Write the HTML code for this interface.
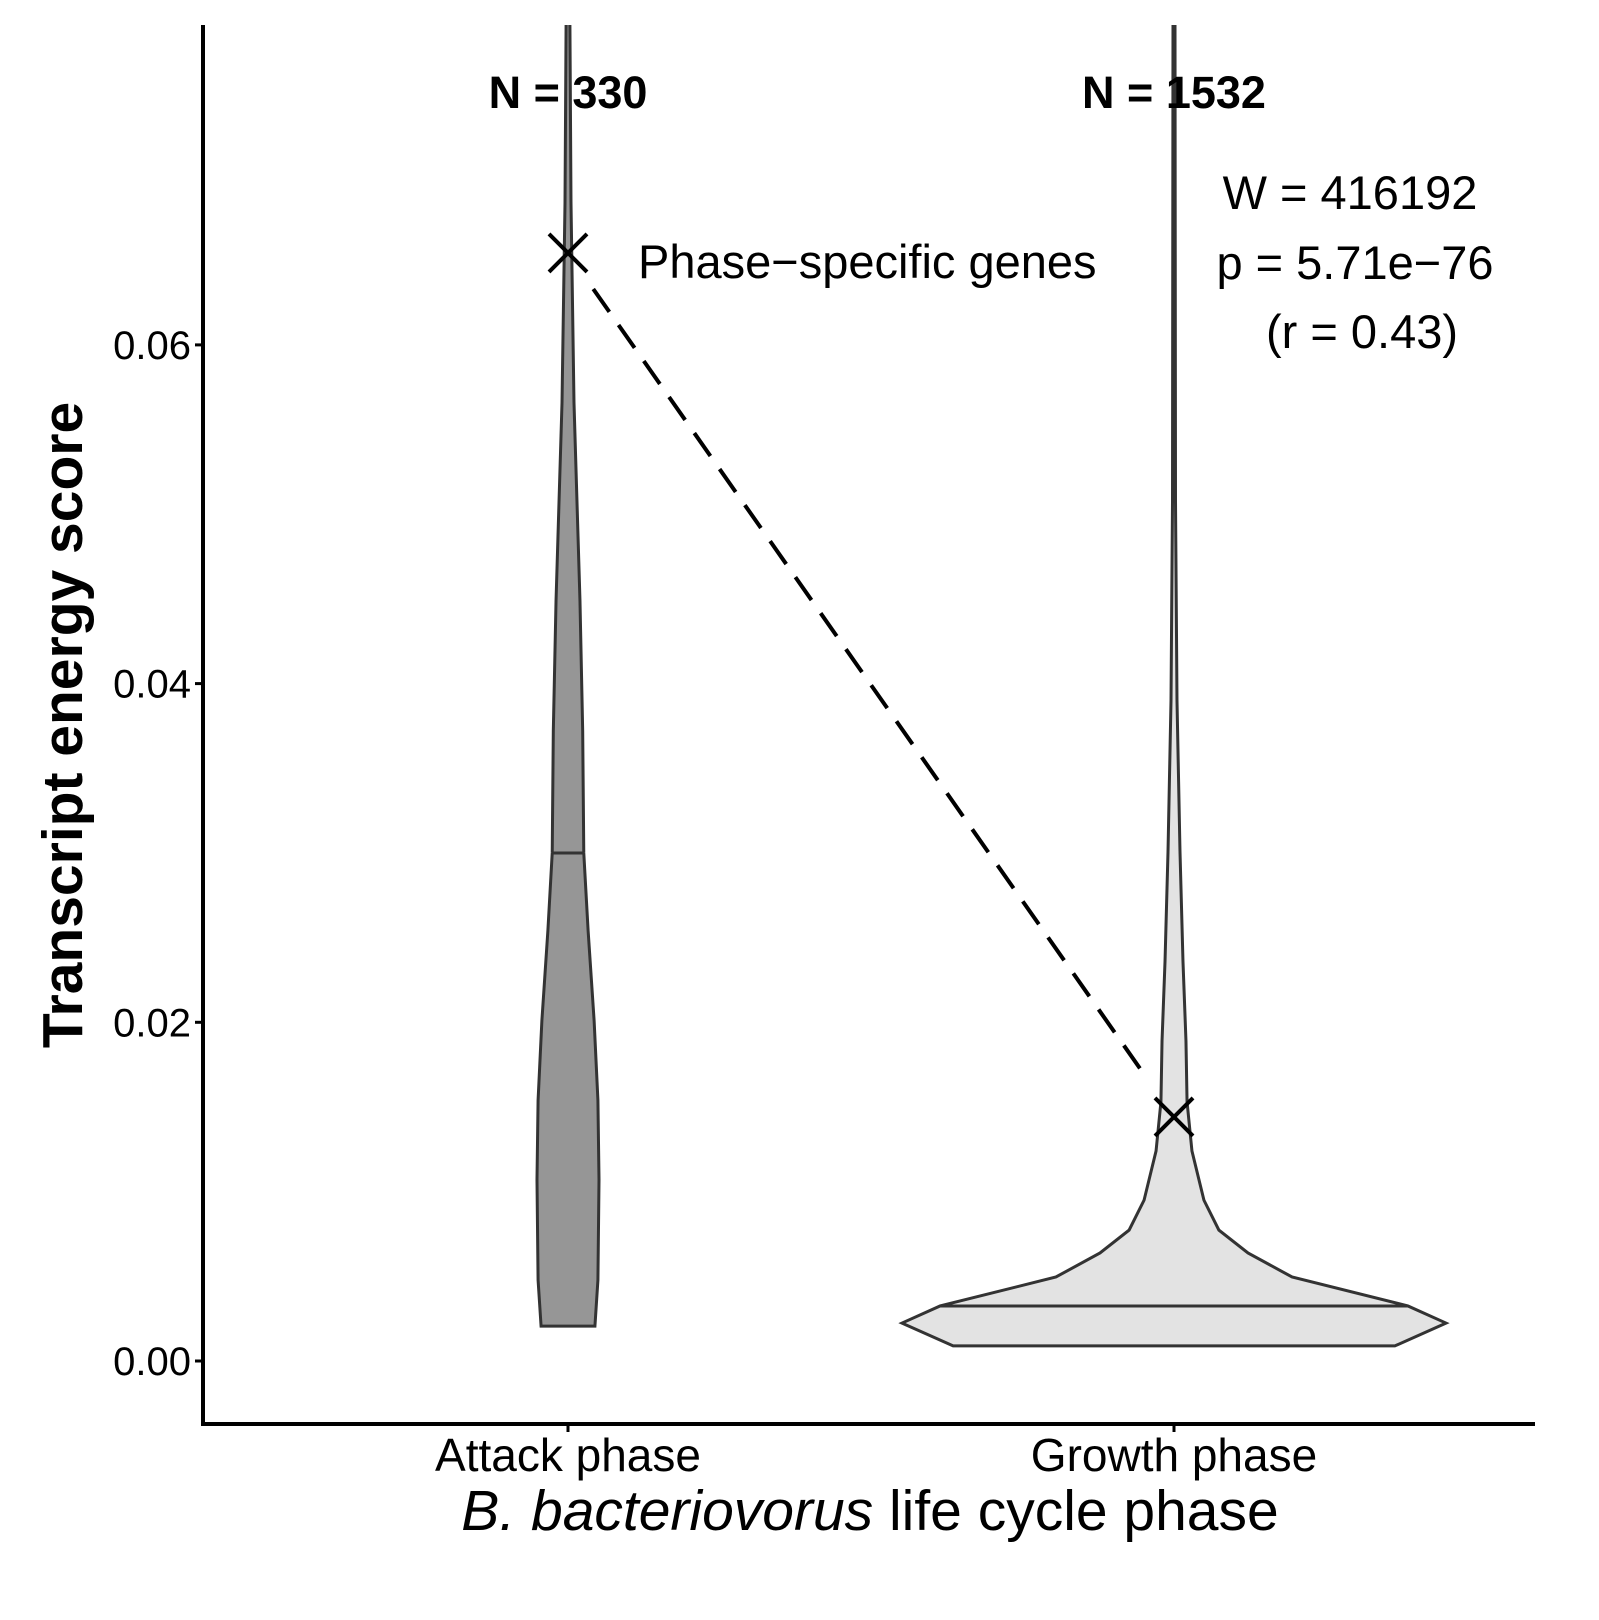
<!DOCTYPE html>
<html><head><meta charset="utf-8"><style>
body{margin:0;background:#fff}
svg text{font-family:"Liberation Sans",sans-serif}
</style></head><body>
<svg id="chart" width="1599" height="1615">
<text x="870" y="1530" text-anchor="middle" font-size="57"><tspan font-style="italic">B. bacteriovorus</tspan> life cycle phase</text>
<text transform="translate(82,725) rotate(-90)" text-anchor="middle" font-size="57" font-weight="bold">Transcript energy score</text>
<text x="638" y="278" font-size="47">Phase−specific genes</text>
<text x="1350" y="209" text-anchor="middle" font-size="47">W = 416192</text>
<text x="1355" y="279" text-anchor="middle" font-size="47">p = 5.71e−76</text>
<text x="1362" y="348" text-anchor="middle" font-size="47">(r = 0.43)</text>
</svg>
<script>
const categories=["Attack phase","Growth phase"];
const yTicks=[0,0.02,0.04,0.06];
const yTickLabels=["0.00","0.02","0.04","0.06"];
const attackValues=[0.00206,0.00478,0.0107,0.0154,0.0201,0.0254,0.03,0.0372,0.0449,0.0566,0.0684,0.079];
const attackWidths=[0.099,0.110,0.114,0.110,0.096,0.074,0.058,0.054,0.044,0.022,0.011,0.007];
const growthValues=[0.00089,0.00224,0.00325,0.00496,0.00638,0.00773,0.00950,0.0124,0.0153,0.0189,0.0236,0.0301,0.0390,0.0508,0.079];
const growthWidths=[0.812,1.0,0.86,0.434,0.272,0.165,0.110,0.066,0.048,0.044,0.033,0.022,0.011,0.0055,0.0037];
const medians=[0.0300,0.00325];
const markerValues=[0.06543,0.01441];
const nLabels=["N =  330","N =  1532"];
const fills=["#969696","#e3e3e3"];

const svg=document.getElementById('chart');
const NS="http://www.w3.org/2000/svg";
const pLeft=203,pRight=1535,pTop=25,pBottom=1424;
const yS=v=>1361-v/0.02*338.7;
const xc=i=>568+i*606;
const wScale=272;
function mk(tag,attrs,parent){const e=document.createElementNS(NS,tag);for(const k in attrs)e.setAttribute(k,attrs[k]);(parent||svg).appendChild(e);return e;}

const clip=mk('clipPath',{id:'pc'});mk('rect',{x:pLeft,y:pTop,width:pRight-pLeft,height:pBottom-pTop},clip);
const g=mk('g',{'clip-path':'url(#pc)'});



const profiles=[[attackValues,attackWidths],[growthValues,growthWidths]];
profiles.forEach((p,i)=>{
  const vals=p[0],ws=p[1];const cx=xc(i);
  let pts=[];
  for(let k=0;k<vals.length;k++)pts.push((cx+ws[k]*wScale)+','+yS(vals[k]));
  for(let k=vals.length-1;k>=0;k--)pts.push((cx-ws[k]*wScale)+','+yS(vals[k]));
  const poly=mk('polygon',{points:pts.join(' '),fill:fills[i],stroke:'#333',"stroke-width":3},g);
  
  
  const m=medians[i];let w=0;
  for(let k=0;k<vals.length-1;k++)if(m>=vals[k]&&m<=vals[k+1]){const t=(m-vals[k])/(vals[k+1]-vals[k]);w=ws[k]+t*(ws[k+1]-ws[k]);}
  const ml=mk('line',{x1:cx-w*wScale,x2:cx+w*wScale,y1:yS(m),y2:yS(m),stroke:'#333',"stroke-width":3},g);
  
  
});
const x0=xc(0),y0=yS(markerValues[0]),x1=xc(1),y1=yS(markerValues[1]);
const dx=x1-x0,dy=y1-y0,L=Math.hypot(dx,dy);
const dl=mk('line',{x1:x0+dx*44/L,y1:y0+dy*44/L,x2:x1-dx*44/L,y2:y1-dy*44/L,stroke:'#000',"stroke-width":4,"stroke-dasharray":"28,16"});


markerValues.forEach((v,i)=>{
  const cx=xc(i),cy=yS(v),s=19;
  const gm=mk('g',{stroke:'#000',"stroke-width":4});
  
  
  mk('line',{x1:cx-s,y1:cy-s,x2:cx+s,y2:cy+s},gm);mk('line',{x1:cx-s,y1:cy+s,x2:cx+s,y2:cy-s},gm);
});
const ax=mk('path',{d:`M${pLeft},${pTop} V${pBottom} H${pRight}`,stroke:'#000',"stroke-width":4,fill:'none'});


yTicks.forEach((v,i)=>{
  const t=mk('line',{x1:pLeft-8,x2:pLeft,y1:yS(v),y2:yS(v),stroke:'#000',"stroke-width":3});
  
  
  const tx=mk('text',{x:pLeft-12,y:yS(v)+14,"text-anchor":'end',"font-size":40});
  tx.textContent=yTickLabels[i];
  
  
});
categories.forEach((c,i)=>{
  const t=mk('line',{x1:xc(i),x2:xc(i),y1:pBottom,y2:pBottom+8,stroke:'#000',"stroke-width":3});
  
  
  const tx=mk('text',{x:xc(i),y:1471,"text-anchor":'middle',"font-size":46});
  tx.textContent=c;
  
  
  const n=mk('text',{x:xc(i),y:108,"text-anchor":'middle',"font-size":45,"font-weight":'bold',"xml:space":'preserve'});
  n.textContent=nLabels[i];
  
  
});
</script>
</body></html>
